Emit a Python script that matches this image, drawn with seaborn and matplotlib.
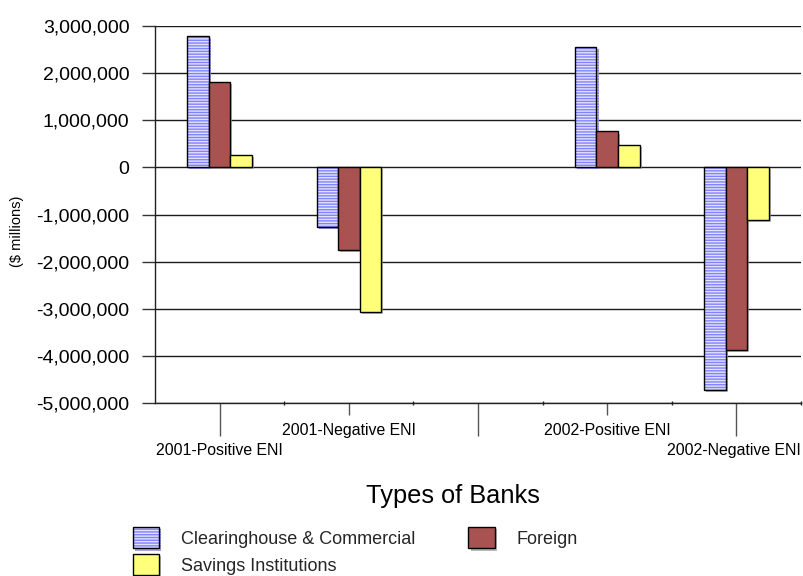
import matplotlib
matplotlib.use("Agg")
import matplotlib.pyplot as plt
import matplotlib.patheffects as pe
from matplotlib.colors import to_rgba
from matplotlib.ticker import FuncFormatter
import numpy as np
import pandas as pd
import seaborn as sns

# Net income by bank type ($ millions)
categories = ["2001-Positive ENI", "2001-Negative ENI", "2002-Positive ENI", "2002-Negative ENI"]
slots = ["2001-Positive ENI", "2001-Negative ENI", " ", "2002-Positive ENI", "2002-Negative ENI"]
series = ["Clearinghouse & Commercial", "Foreign", "Savings Institutions"]
clearinghouse = [2790000, -1255000, 2540000, -4720000]
foreign = [1810000, -1750000, 760000, -3870000]
savings = [265000, -3060000, 475000, -1120000]
y_ticks = [-5000000, -4000000, -3000000, -2000000, -1000000, 0, 1000000, 2000000, 3000000]

sns.set_theme(style="white")
plt.rcParams["font.family"] = ["Liberation Sans", "DejaVu Sans"]
plt.rcParams["hatch.linewidth"] = 1.0

df = pd.DataFrame({
    "type": categories * 3,
    "series": np.repeat(series, len(categories)),
    "value": clearinghouse + foreign + savings,
})

fig = plt.figure(figsize=(8.04, 5.76), dpi=100)
ax = fig.add_axes([155 / 804, 1 - 403.3 / 576, 646 / 804, 377.6 / 576])

colors = ["#e2e2ff", "#a85352", "#ffff7a"]
sns.barplot(data=df, x="type", y="value", hue="series", order=slots, hue_order=series,
            palette=colors, width=0.5, saturation=1, edgecolor="black", linewidth=1,
            errorbar=None, legend=False, ax=ax)

stripe = "#8282ff"
shadow = [pe.SimplePatchShadow(offset=(1.5, -1.5), shadow_rgbFace="#9a9a9a", alpha=0.7), pe.Normal()]
for k, cont in enumerate(ax.containers):
    for p in cont:
        p.set_path_effects(shadow)
        if k == 0:
            p.set_hatch("------")
            if hasattr(p, "set_hatchcolor"):
                p.set_hatchcolor(stripe)
            else:
                p._hatch_color = to_rgba(stripe)

ax.set_xlim(-0.5, len(slots) - 0.5)
ax.set_ylim(y_ticks[0], y_ticks[-1])
ax.set_yticks(y_ticks)
ax.yaxis.set_major_formatter(FuncFormatter(lambda v, _: f"{int(v):,}"))
ax.tick_params(axis="y", which="major", direction="out", length=9.4, width=1, color="#333333",
               pad=9, labelsize=14, labelcolor="black", left=True)
ax.yaxis.grid(True, color="#1a1a1a", linewidth=1)
ax.set_axisbelow(True)

for side in ["top", "right"]:
    ax.spines[side].set_visible(False)
for side in ["left", "bottom"]:
    ax.spines[side].set_color("#222222")
    ax.spines[side].set_linewidth(1)

# category ticks: long for lower label row, shorter for upper row
ax.set_xticks(range(len(slots)))
ax.set_xticklabels([""] * len(slots))
ax.set_xticks(np.arange(0.5, len(slots)), minor=True)
ax.tick_params(axis="x", which="major", direction="out", length=24, width=1, color="#555555", bottom=True)
ax.tick_params(axis="x", which="minor", direction="inout", length=3, width=1, color="#222222", bottom=True)
for i, t in enumerate(ax.xaxis.get_major_ticks()):
    t.tick1line.set_markersize(24 if i % 2 == 0 else 8.6)

for i, lab in enumerate(slots):
    off = 34.3 if i % 2 == 0 else 19.9
    ax.annotate(lab.strip(), xy=(i, 0), xycoords=("data", "axes fraction"),
                xytext=(-1.5 if i == len(slots) - 1 else 0, -off), textcoords="offset points",
                ha="center", va="center", fontsize=11.4, color="black")

ax.set_xlabel("Types of Banks", fontsize=18.3, color="black")
ax.xaxis.label.set_va("center")
ax.xaxis.set_label_coords((453 - 155) / 646, (403.3 - 496) / 377.6)

ax.set_ylabel("($ millions)", fontsize=10.5, color="black")
ax.yaxis.label.set_va("center")
ax.yaxis.label.set_ha("center")
ax.yaxis.set_label_coords((17 - 155) / 646, (403.3 - 231) / 377.6)

handles = [ax.containers[0][0], ax.containers[2][0], ax.containers[1][0]]
labels = [series[0], series[2], series[1]]
leg = fig.legend(handles, labels, ncol=2, loc="upper left",
                 bbox_to_anchor=(133 / 804, 1 - 527 / 576), frameon=False,
                 fontsize=13, handlelength=1.45, handleheight=1.45, handletextpad=1.2,
                 columnspacing=2.95, labelspacing=0.3, borderpad=0, borderaxespad=0)

fig.savefig("out.png", dpi=100)
